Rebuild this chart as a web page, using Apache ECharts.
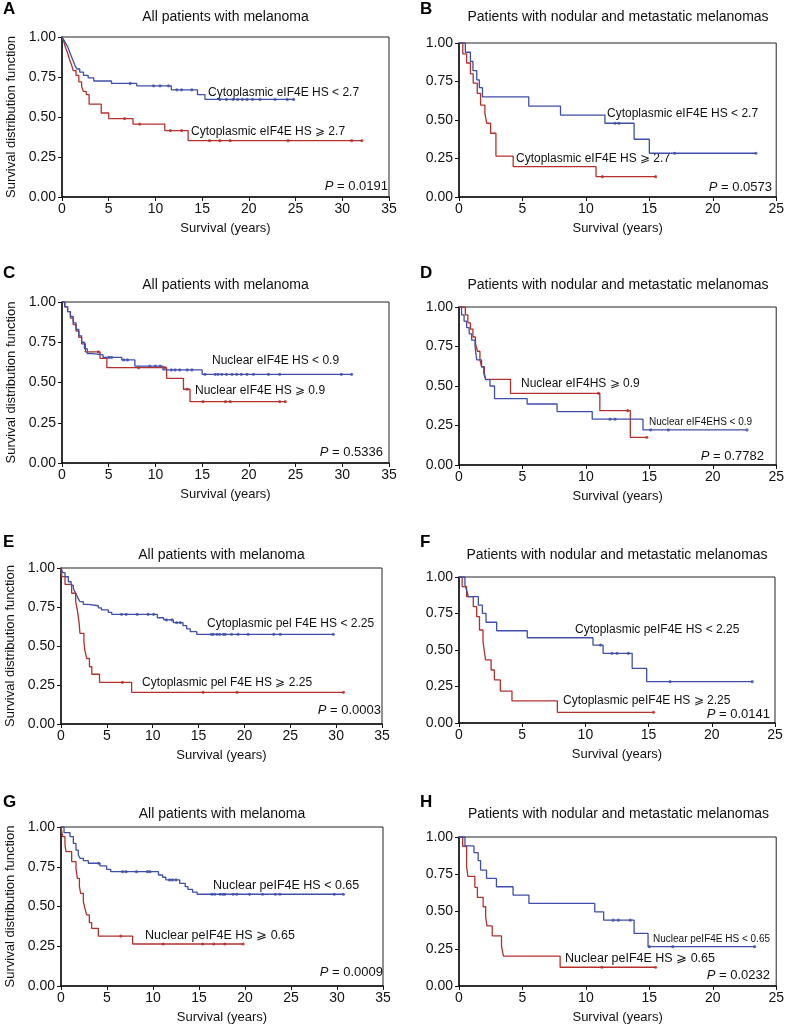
<!DOCTYPE html>
<html>
<head>
<meta charset="utf-8">
<script src="https://cdn.jsdelivr.net/npm/echarts@6/dist/echarts.min.js"></script>
<style>
html, body { margin: 0; padding: 0; background: #fff; }
#chart { width: 787px; height: 1032px; }
</style>
</head>
<body>
<div id="chart"></div>
<script>
// Kaplan-Meier curves: [years, survival] at each drop, last point = end of follow-up
// censor arrays: years of the tick marks on each curve

// A - all patients, cytoplasmic eIF4E
var aBlue = [[0,1],[0.2,0.98],[0.4,0.96],[0.6,0.94],[0.8,0.91],[1.0,0.88],[1.2,0.85],[1.4,0.82],[1.6,0.8],[1.9,0.78],[2.3,0.76],[2.8,0.745],[3.4,0.725],[5.3,0.71],[8.0,0.695],[11.7,0.67],[14.5,0.64],[15.3,0.61],[24.8,0.61]];
var aBlueCens = [7.3, 9.8, 10.5, 11.4, 12.3, 12.8, 13.9, 16.9, 17.6, 18.3, 18.8, 19.3, 19.8, 20.4, 21.2, 22.8, 24.1, 24.8];
var aRed = [[0,1],[0.2,0.97],[0.4,0.93],[0.6,0.9],[0.8,0.86],[1.0,0.83],[1.2,0.79],[1.5,0.76],[1.8,0.72],[2.1,0.69],[2.3,0.66],[2.6,0.64],[2.9,0.58],[4.2,0.525],[5.0,0.49],[7.6,0.456],[11.0,0.415],[13.5,0.352],[32.1,0.352]];
var aRedCens = [6.7, 8.3, 11.6, 12.8, 15.8, 16.9, 18.0, 24.2, 31.0, 32.1];

// B - nodular / metastatic, cytoplasmic eIF4E
var bBlue = [[0,1],[0.5,0.94],[0.9,0.88],[1.1,0.82],[1.4,0.76],[1.6,0.71],[1.85,0.65],[5.5,0.59],[8.0,0.532],[11.5,0.479],[13.8,0.375],[15.0,0.284],[23.4,0.284]];
var bBlueCens = [12.3, 12.6, 17.0, 23.4];
var bRed = [[0,1],[0.3,0.93],[0.6,0.87],[0.9,0.8],[1.12,0.74],[1.44,0.673],[1.7,0.597],[2.04,0.543],[2.18,0.479],[2.49,0.414],[2.91,0.266],[4.27,0.197],[10.8,0.132],[15.5,0.132]];
var bRedCens = [11.3, 15.5];

// C - all patients, nuclear eIF4E
var cBlue = [[0,1],[0.3,0.97],[0.6,0.94],[0.9,0.91],[1.2,0.87],[1.5,0.83],[1.8,0.79],[2.1,0.75],[2.4,0.71],[2.7,0.68],[3.3,0.671],[4.4,0.656],[6.4,0.64],[7.8,0.602],[10.8,0.578],[15.0,0.551],[31.0,0.551]];
var cBlueCens = [5.0, 5.3, 6.6, 7.0, 9.4, 10.0, 10.5, 11.7, 12.1, 12.6, 13.4, 13.9, 15.3, 16.4, 16.7, 17.1, 17.6, 18.2, 18.7, 19.2, 19.8, 20.5, 22.1, 23.3, 29.9, 31.0];
var cRed = [[0,1],[0.3,0.97],[0.6,0.94],[0.9,0.9],[1.2,0.86],[1.5,0.82],[1.8,0.78],[2.1,0.74],[2.5,0.69],[4.07,0.65],[4.8,0.592],[11.2,0.526],[13.0,0.458],[13.7,0.381],[23.9,0.381]];
var cRedCens = [3.9, 8.2, 11.0, 13.4, 15.1, 17.5, 18.0, 23.3, 23.9];

// D - nodular / metastatic, nuclear eIF4E
var dBlue = [[0,1],[0.2,0.95],[0.4,0.91],[0.6,0.87],[0.8,0.83],[1.0,0.79],[1.26,0.75],[1.4,0.665],[1.78,0.62],[1.95,0.58],[2.1,0.54],[2.44,0.5],[2.8,0.42],[5.37,0.386],[7.73,0.338],[10.5,0.29],[14.5,0.222],[22.7,0.222]];
var dBlueCens = [11.9, 12.3, 15.1, 16.5, 22.7];
var dRed = [[0,1],[0.5,0.95],[0.7,0.9],[0.9,0.86],[1.1,0.81],[1.3,0.77],[1.45,0.72],[1.65,0.665],[1.78,0.622],[2.0,0.58],[2.1,0.542],[4.06,0.453],[11.1,0.344],[13.5,0.175],[14.8,0.175]];
var dRedCens = [11.0, 13.3, 14.8];

// E - all patients, cytoplasmic peIF4E
var eBlue = [[0,1],[0.2,0.97],[0.44,0.944],[0.8,0.912],[1.1,0.89],[1.34,0.87],[1.5,0.85],[1.71,0.827],[1.9,0.8],[2.07,0.784],[2.43,0.767],[2.98,0.758],[4.07,0.745],[4.4,0.731],[5.16,0.716],[5.53,0.703],[10.5,0.681],[11.2,0.667],[12.25,0.65],[13.3,0.63],[13.7,0.61],[14.1,0.592],[14.8,0.575],[29.7,0.575]];
var eBlueCens = [6.6, 7.1, 8.3, 9.5, 10.1, 11.5, 12.1, 12.6, 13.0, 16.4, 16.6, 17.0, 17.3, 17.7, 17.9, 18.6, 19.3, 20.4, 23.2, 23.9, 29.7];
var eRed = [[0,1],[0.1,0.945],[0.44,0.895],[1.16,0.838],[1.6,0.784],[1.78,0.731],[1.96,0.656],[2.07,0.581],[2.5,0.528],[2.6,0.474],[2.8,0.42],[3.1,0.367],[3.36,0.319],[4.2,0.267],[7.7,0.203],[30.8,0.203]];
var eRedCens = [6.7, 15.5, 19.2, 30.8];

// F - nodular / metastatic, cytoplasmic peIF4E
var fBlue = [[0,1],[0.47,0.945],[0.6,0.911],[0.74,0.865],[1.53,0.808],[1.85,0.751],[2.14,0.69],[2.98,0.632],[5.4,0.584],[10.6,0.534],[11.4,0.477],[13.7,0.374],[14.85,0.283],[23.2,0.283]];
var fBlueCens = [11.2, 12.1, 12.5, 13.4, 16.7, 23.2];
var fRed = [[0,1],[0.25,0.934],[0.6,0.865],[1.13,0.797],[1.4,0.728],[1.62,0.637],[1.9,0.557],[2.01,0.488],[2.1,0.432],[2.54,0.363],[2.8,0.295],[3.27,0.219],[4.19,0.151],[7.78,0.073],[15.4,0.073]];
var fRedCens = [15.4];

// G - all patients, nuclear peIF4E
var gBlue = [[0,1],[0.33,0.964],[0.98,0.939],[1.34,0.897],[1.63,0.855],[1.88,0.824],[2.07,0.803],[2.43,0.788],[2.97,0.772],[4.24,0.755],[4.96,0.734],[5.4,0.719],[10.6,0.698],[11.05,0.684],[11.4,0.667],[12.9,0.646],[13.5,0.625],[13.8,0.608],[14.3,0.59],[14.8,0.577],[30.7,0.577]];
var gBlueCens = [4.1, 6.7, 7.07, 8.2, 9.4, 9.67, 11.8, 12.1, 12.5, 16.4, 16.7, 17.3, 17.6, 17.8, 18.7, 19.1, 20.5, 21.9, 23.3, 23.8, 29.7, 30.7];
var gRed = [[0,1],[0.18,0.939],[0.43,0.887],[0.54,0.845],[1.16,0.782],[1.63,0.74],[1.78,0.677],[2.0,0.625],[2.14,0.583],[2.43,0.53],[2.6,0.488],[2.79,0.447],[3.08,0.398],[3.33,0.363],[4.06,0.314],[7.79,0.264],[19.8,0.264]];
var gRedCens = [6.5, 11.1, 15.4, 16.6, 17.8, 19.8];

// H - nodular / metastatic, nuclear peIF4E
var hBlue = [[0,1],[0.47,0.94],[1.18,0.895],[1.51,0.842],[1.7,0.778],[2.17,0.722],[2.95,0.666],[4.26,0.61],[5.51,0.554],[10.7,0.498],[11.4,0.442],[13.8,0.353],[14.9,0.264],[23.3,0.264]];
var hBlueCens = [12.15, 12.56, 13.5, 15.0, 16.85, 23.3];
var hRed = [[0,1],[0.29,0.938],[0.6,0.8],[0.7,0.736],[1.25,0.662],[1.45,0.595],[1.9,0.532],[2.1,0.465],[2.2,0.403],[2.62,0.336],[3.35,0.268],[3.5,0.201],[7.97,0.126],[15.5,0.126]];
var hRedCens = [11.26, 15.5];

var yTicks = [0, 0.25, 0.5, 0.75, 1];

var BLUE = '#3f4fa8';
var RED = '#b3302c';
var INK = '#111';
var FONT = '"Liberation Sans", Arial, sans-serif';

var titleAll = 'All patients with melanoma';
var titleNod = 'Patients with nodular and metastatic melanomas';

// box = [left, top, width, height] of plot area in px
var panels = [
  { letter: 'A', letterY: 1, box: [62, 37, 327, 160], xmax: 35, title: titleAll, titleY: 17,
    blue: aBlue, blueCens: aBlueCens, red: aRed, redCens: aRedCens,
    labels: [['Cytoplasmic eIF4E HS < 2.7', 208, 93, 12], ['Cytoplasmic eIF4E HS \u2A7E 2.7', 191, 132, 12]],
    p: ['0.0191', 388, 186] },
  { letter: 'B', letterY: 1, box: [459, 43, 318, 154], xmax: 25, title: titleNod, titleY: 17,
    blue: bBlue, blueCens: bBlueCens, red: bRed, redCens: bRedCens,
    labels: [['Cytoplasmic eIF4E HS < 2.7', 607, 114, 12], ['Cytoplasmic eIF4E HS \u2A7E 2.7', 516, 159, 12]],
    p: ['0.0573', 772, 187] },
  { letter: 'C', letterY: 265, box: [62, 302, 327, 161], xmax: 35, title: titleAll, titleY: 285,
    blue: cBlue, blueCens: cBlueCens, red: cRed, redCens: cRedCens,
    labels: [['Nuclear eIF4E HS < 0.9', 212, 361, 12], ['Nuclear eIF4E HS \u2A7E 0.9', 195, 391, 12]],
    p: ['0.5336', 383, 452] },
  { letter: 'D', letterY: 265, box: [459, 307, 318, 158], xmax: 25, title: titleNod, titleY: 285,
    blue: dBlue, blueCens: dBlueCens, red: dRed, redCens: dRedCens,
    labels: [['Nuclear eIF4HS \u2A7E 0.9', 521, 384, 12], ['Nuclear eIF4EHS < 0.9', 649, 422, 10]],
    p: ['0.7782', 764, 456] },
  { letter: 'E', letterY: 534, box: [61, 568, 321, 156], xmax: 35, title: titleAll, titleY: 555,
    blue: eBlue, blueCens: eBlueCens, red: eRed, redCens: eRedCens,
    labels: [['Cytoplasmic pel F4E HS < 2.25', 207, 624, 12], ['Cytoplasmic pel F4E HS \u2A7E 2.25', 142, 683, 12]],
    p: ['0.0003', 381, 710] },
  { letter: 'F', letterY: 534, box: [459, 577, 316, 146], xmax: 25, title: titleNod, titleY: 555,
    blue: fBlue, blueCens: fBlueCens, red: fRed, redCens: fRedCens,
    labels: [['Cytoplasmic peIF4E HS < 2.25', 575, 630, 12], ['Cytoplasmic peIF4E HS \u2A7E 2.25', 563, 701, 12]],
    p: ['0.0141', 770, 714] },
  { letter: 'G', letterY: 794, box: [61, 827, 322, 159], xmax: 35, title: titleAll, titleY: 814,
    blue: gBlue, blueCens: gBlueCens, red: gRed, redCens: gRedCens,
    labels: [['Nuclear peIF4E HS < 0.65', 213, 886, 12.5], ['Nuclear peIF4E HS \u2A7E 0.65', 145, 936, 12.5]],
    p: ['0.0009', 383, 972] },
  { letter: 'H', letterY: 794, box: [459, 837, 319, 149], xmax: 25, title: titleNod, titleY: 814,
    blue: hBlue, blueCens: hBlueCens, red: hRed, redCens: hRedCens,
    labels: [['Nuclear peIF4E HS < 0.65', 653, 939, 10], ['Nuclear peIF4E HS \u2A7E 0.65', 565, 959, 12.5]],
    p: ['0.0232', 770, 975] }
];

// value of a step curve at time t (used to put censor ticks on the curve)
function survAt(curve, t) {
  var s = curve[0][1];
  for (var i = 0; i < curve.length; i++) {
    if (curve[i][0] <= t + 1e-9) s = curve[i][1];
  }
  return s;
}

var grids = [], xAxes = [], yAxes = [], series = [], graphics = [];

panels.forEach(function (p, i) {
  var left = p.box[0] < 200;
  grids.push({
    left: p.box[0], top: p.box[1], width: p.box[2], height: p.box[3],
    show: true, borderColor: '#222', borderWidth: 1, containLabel: false
  });
  xAxes.push({
    gridIndex: i, type: 'value', min: 0, max: p.xmax, interval: 5,
    name: 'Survival (years)', nameLocation: 'middle', nameGap: 25,
    nameTextStyle: { fontSize: 13, color: INK, fontFamily: FONT },
    axisLine: { onZero: false, lineStyle: { color: INK, width: 1.5 } },
    axisTick: { length: 4, lineStyle: { color: INK } },
    axisLabel: { fontSize: 14, color: INK, fontFamily: FONT, margin: 5 },
    splitLine: { show: false }
  });
  yAxes.push({
    gridIndex: i, type: 'value', min: yTicks[0], max: yTicks[yTicks.length - 1], interval: 0.25,
    name: left ? 'Survival distribution function' : '', nameLocation: 'middle', nameGap: 44,
    nameTextStyle: { fontSize: 13, color: INK, fontFamily: FONT },
    axisLine: { onZero: false, lineStyle: { color: INK, width: 1.5 } },
    axisTick: { length: 4, lineStyle: { color: INK } },
    axisLabel: { fontSize: 14, color: INK, fontFamily: FONT, margin: 6,
      formatter: function (v) { return v.toFixed(2); } },
    splitLine: { show: false }
  });

  [[p.red, p.redCens, RED], [p.blue, p.blueCens, BLUE]].forEach(function (c) {
    series.push({
      type: 'line', xAxisIndex: i, yAxisIndex: i, step: 'end',
      data: c[0], symbol: 'none', animation: false,
      lineStyle: { color: c[2], width: 1.3 }
    });
    series.push({
      type: 'scatter', xAxisIndex: i, yAxisIndex: i,
      data: c[1].map(function (t) { return [t, survAt(c[0], t)]; }),
      symbol: 'circle', symbolSize: 3.2, animation: false,
      itemStyle: { color: c[2] }
    });
  });

  graphics.push({
    type: 'text', left: left ? 3 : 420, top: p.letterY,
    style: { text: p.letter, font: 'bold 17px ' + FONT, fill: '#000' }
  });
  graphics.push({
    type: 'text', x: p.box[0] + p.box[2] / 2, y: p.titleY,
    style: { text: p.title, fontSize: 14, fontFamily: FONT, fill: INK, align: 'center', verticalAlign: 'middle' }
  });
  p.labels.forEach(function (l) {
    graphics.push({
      type: 'text', x: l[1], y: l[2],
      style: { text: l[0], fontSize: l[3], fontFamily: FONT, fill: INK, align: 'left', verticalAlign: 'middle' }
    });
  });
  graphics.push({
    type: 'text', x: p.p[1], y: p.p[2],
    style: {
      text: '{i|P} = ' + p.p[0], fontSize: 13, fontFamily: FONT, fill: INK,
      align: 'right', verticalAlign: 'middle',
      rich: { i: { fontStyle: 'italic', fontSize: 13, fontFamily: FONT, fill: INK } }
    }
  });
});

var chart = echarts.init(document.getElementById('chart'));
chart.setOption({
  animation: false,
  backgroundColor: '#fff',
  grid: grids,
  xAxis: xAxes,
  yAxis: yAxes,
  series: series,
  graphic: graphics
});
</script>
</body>
</html>
